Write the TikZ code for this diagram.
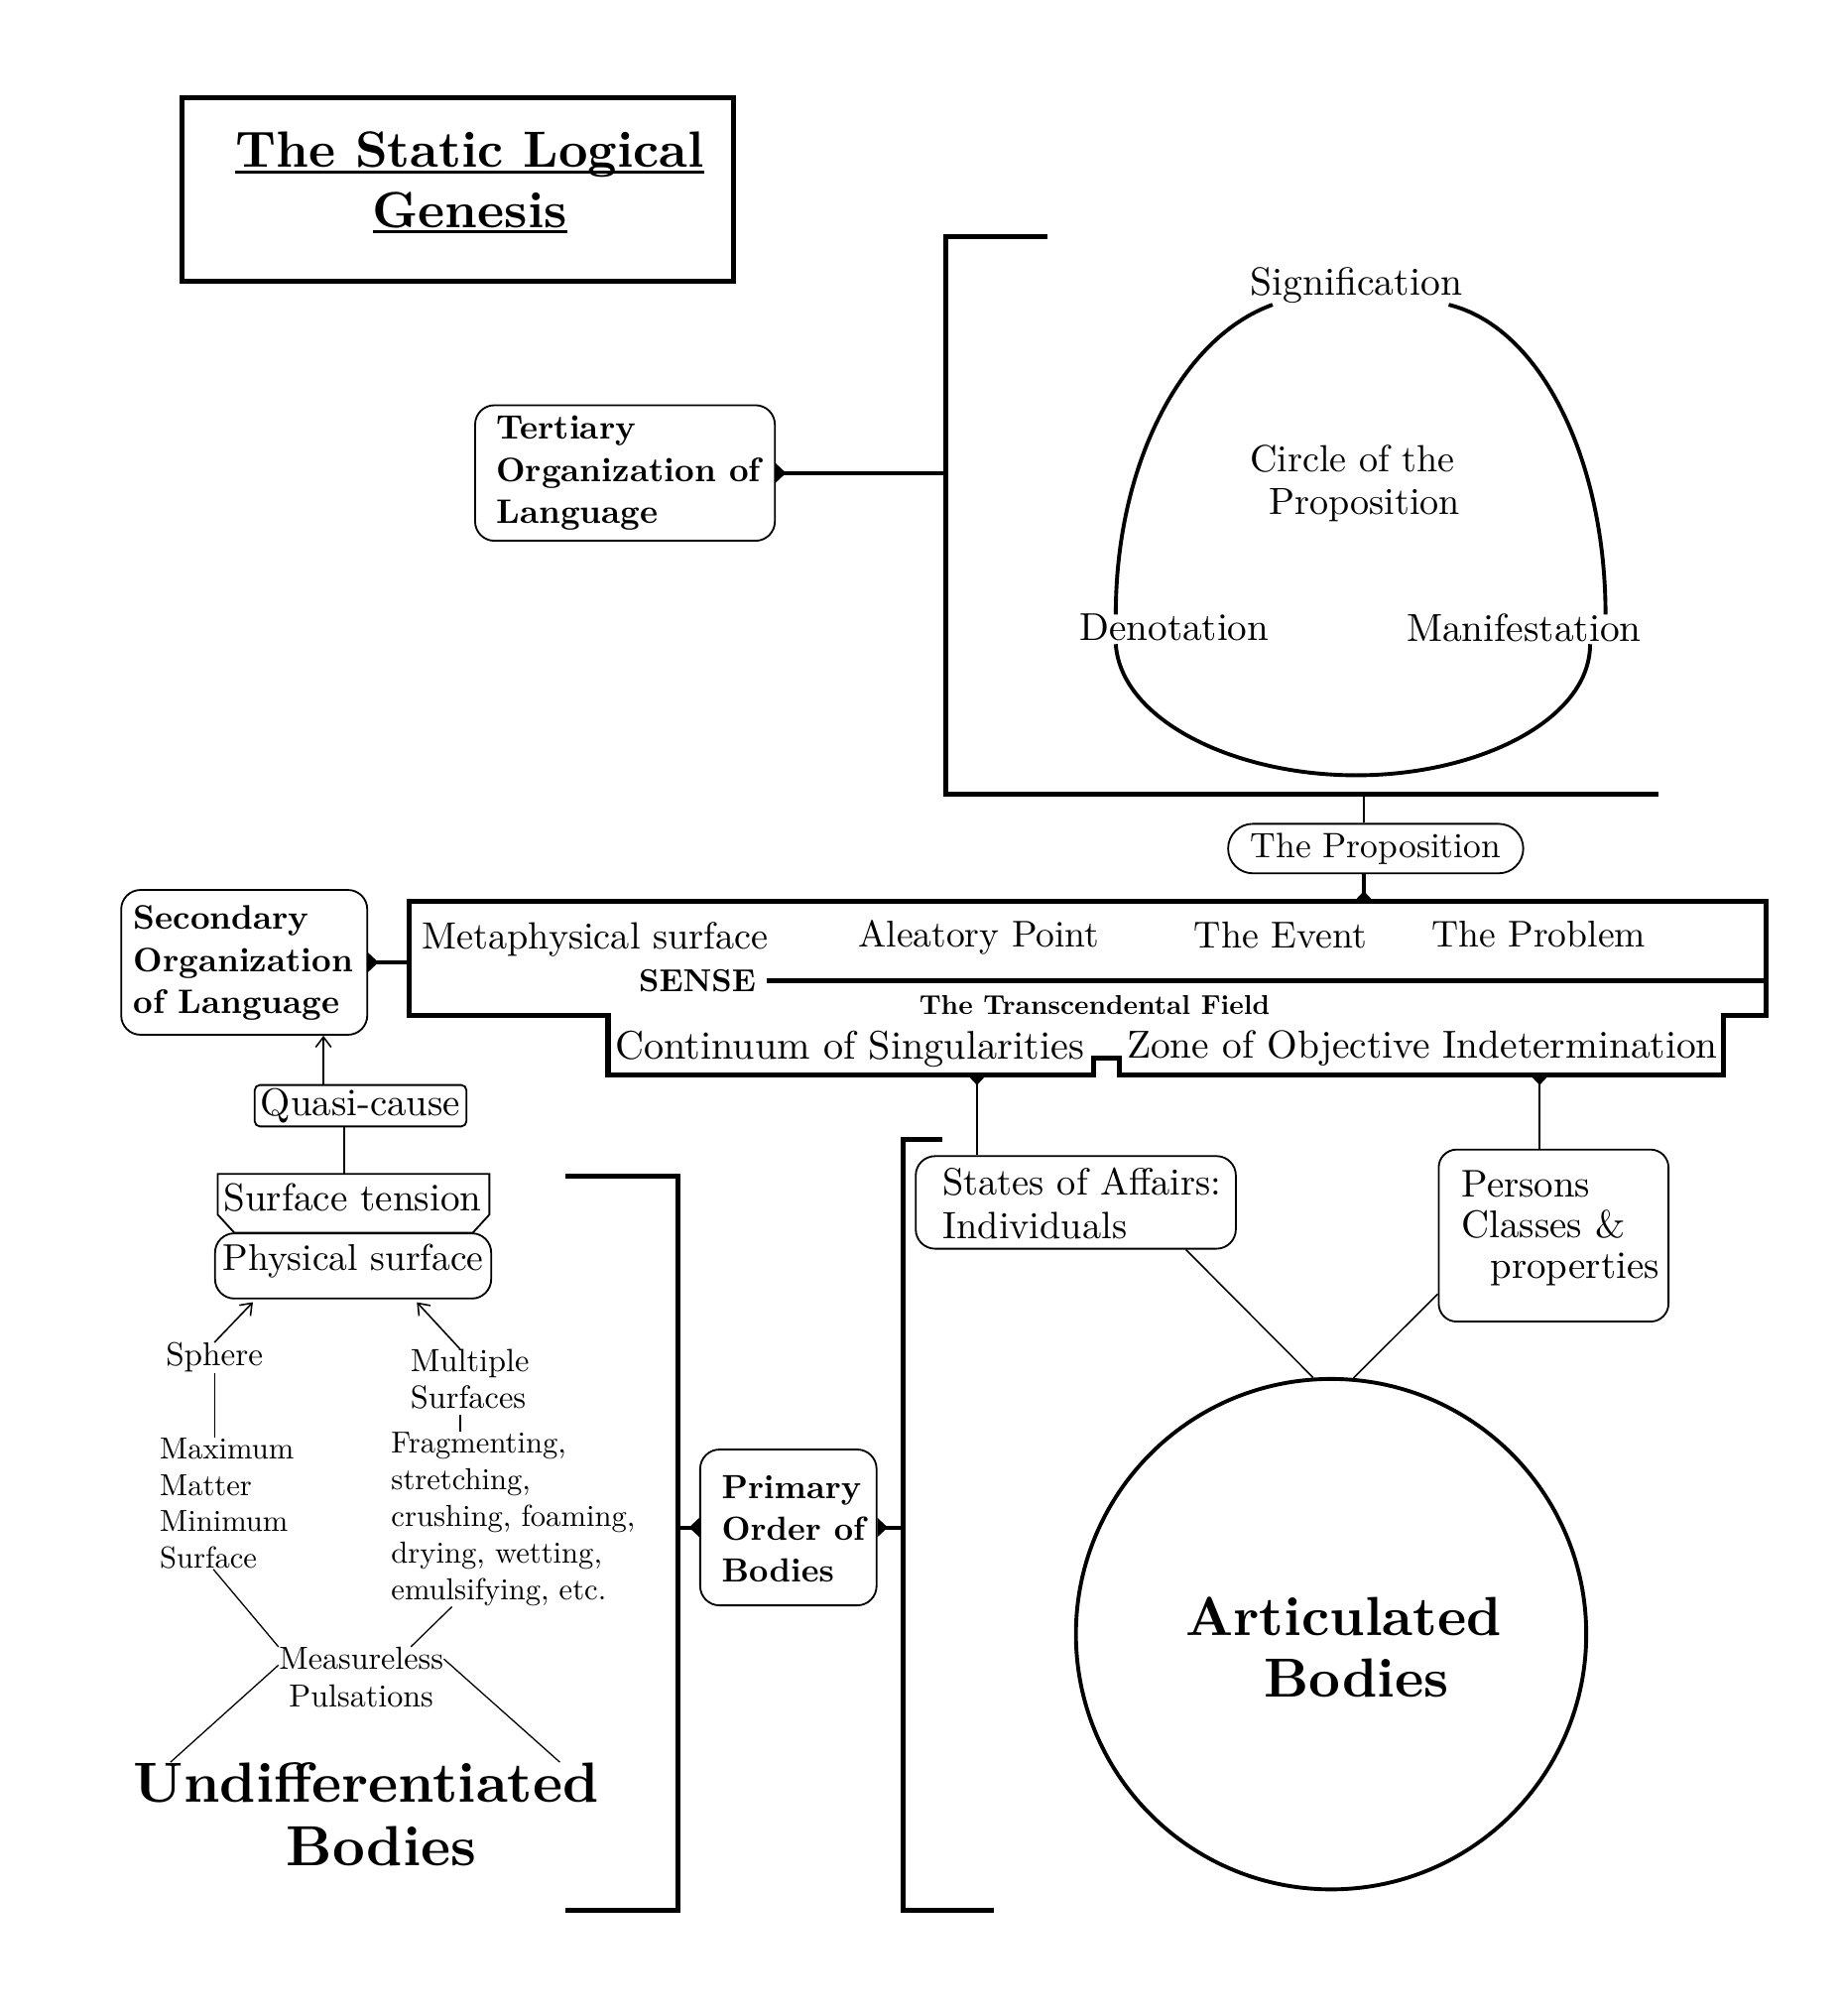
\documentclass[tikz,border=0pt]{standalone}
\usepackage{fontspec}
\setmainfont{lmroman10-regular.otf}[BoldFont=lmroman10-bold.otf, ItalicFont=lmroman10-italic.otf]
\usetikzlibrary{arrows.meta,calc}
\newcommand\fsz[2]{\fontsize{#1}{#2}\selectfont}
\newcommand\myul[1]{\setbox0=\hbox{#1}\rlap{\rule[-2.2pt]{\wd0}{0.9pt}}\box0}
\begin{document}
\begin{tikzpicture}[x=0.5pt,y=-0.5pt,
  bline/.style={line width=2pt},
  dome/.style={line width=1.5pt},
  rbox/.style={draw, line width=0.7pt, rounded corners=7.5pt, inner sep=0pt},
  txt/.style={inner sep=0pt, align=center},
  btxt/.style={inner sep=0pt, align=left, font=\fsz{13.2}{16.3}\bfseries},
  stxt/.style={inner sep=0pt, align=left},
  thinl/.style={line width=0.5pt},
  thinc/.style={line width=0.6pt},
  conn/.style={line width=1.5pt},
  arr/.style={line width=0.6pt, -{Straight Barb[length=4pt,width=6pt]}},
  junc/.pic={\fill (0,-7.5) -- (8,0) -- (0,7.5) -- cycle;}
]
\fill[white] (0,0) rectangle (1431,1568);
\useasboundingbox (0,0) rectangle (1431,1568);

% ---------- title ----------
\node[draw, line width=2pt, minimum width=214.6pt, minimum height=71.3pt, inner sep=0pt] (titlebox) at (356.2,147.3) {};
\node[txt, font=\fsz{19.8}{23.2}\bfseries] (title) at (365.5,142) {\myul{The Static Logical}\\\myul{Genesis}};

% ---------- tertiary ----------
\coordinate (tbtop) at (815,184);
\coordinate (tb) at (736,184);
\coordinate (tbb) at (736,618);
\coordinate (tbend) at (1290,618);
\draw[bline] (tbtop) -- (tb) -- (tbb) -- (tbend);

\node[rbox, minimum width=116.6pt, minimum height=52.7pt] (tert) at (486.2,367.9) {};
\node[btxt, anchor=west] (terttxt) at (385.7,367.9) {Tertiary\\Organization of\\Language};
\draw[conn] (tert.east) -- (tert.east -| tb);
\pic at (tert.east) {junc};

% ---------- circle of the proposition ----------
\draw[dome] (990,237) .. controls (920,262) and (868,360) .. (868,478);
\draw[dome] (1127,237) .. controls (1200,255) and (1249,360) .. (1249,478);
\draw[dome] (868,501) .. controls (872,560) and (960,603) .. (1055,603)
            .. controls (1150,603) and (1237,560) .. (1237,501);
\node[txt, font=\fsz{15.3}{16.5}] (signif) at (1055,222) {Signification};
\node[stxt, anchor=west, font=\fsz{14.7}{16.5}] (circtxt) at (972,376) {Circle of the\\\hspace*{7.5pt}Proposition};
\node[txt, font=\fsz{15.1}{16.5}] (denot) at (913.5,488) {Denotation};
\node[txt, font=\fsz{15.2}{16.5}] (manif) at (1185.5,488) {Manifestation};

% ---------- the proposition ----------
\coordinate (pb) at (1061,618);
\node[rbox, rounded corners=9.6pt, minimum width=114.8pt, minimum height=19.25pt, font=\fsz{13.7}{16.5}] (prop) at (1070.2,660) {The Proposition};
\draw[line width=1.1pt] (pb) -- (pb |- prop.north);

% ---------- sense box ----------
\coordinate (s1) at (318,701);
\coordinate (s2) at (1374,701);
\coordinate (s3) at (1374,790);
\coordinate (s4) at (1341,790);
\coordinate (s5) at (1341,836);
\coordinate (s6) at (871,836);
\coordinate (s7) at (871,823);
\coordinate (s8) at (851,823);
\coordinate (s9) at (851,836);
\coordinate (s10) at (473,836);
\coordinate (s11) at (473,790);
\coordinate (s12) at (318,790);
\draw[bline] (s1) -- (s2) -- (s3) -- (s4) -- (s5) -- (s6) -- (s7) -- (s8) -- (s9) -- (s10) -- (s11) -- (s12) -- cycle;
\draw[conn] (pb |- prop.south) -- (pb |- s1);
\pic[rotate=90] at (pb |- s1) {junc};

\node[txt, font=\fsz{14.75}{16.5}] (meta) at (463,731) {Metaphysical surface};
\node[txt, font=\fsz{14.5}{16.5}] (alea) at (761.5,729) {Aleatory Point};
\node[txt, font=\fsz{14.6}{16.5}] (event) at (996,727) {The Event};
\node[txt, font=\fsz{14.5}{16.5}] (probl) at (1197,727) {The Problem};
\node[txt, font=\fsz{12.3}{14}\bfseries] (sense) at (542.5,763) {SENSE};
\draw[bline] ([xshift=4pt]sense.east) -- (sense.east -| s2);
\node[txt, font=\fsz{10.6}{12}\bfseries] (tfield) at (851.5,782) {The Transcendental Field};
\node[txt, font=\fsz{15.5}{16.5}] (cont) at (661,816) {Continuum of Singularities};
\node[txt, font=\fsz{15.2}{16.5}] (zone) at (1106.5,815) {Zone of Objective Indetermination};

% ---------- secondary ----------
\node[rbox, minimum width=95.7pt, minimum height=56.3pt] (sec) at (190,748.5) {};
\node[btxt, anchor=west] (sectxt) at (103.5,749) {Secondary\\Organization\\of Language};
\draw[conn] (sec.east) -- (sec.east -| s1);
\pic at (sec.east) {junc};

% ---------- quasi-cause / surfaces ----------
\coordinate (qx) at (251.6,0);
\coordinate (qx2) at (267.6,0);
\node[rbox, rounded corners=2pt, minimum width=82.35pt, minimum height=16.1pt, font=\fsz{15}{16.5}] (quasi) at (280.5,860) {Quasi-cause};
\draw[arr] (quasi.north -| qx) -- (sec.south -| qx);

\node[inner sep=0pt, minimum width=105.25pt, minimum height=22.5pt] (stens) at (275.05,935.9) {};
\draw[line width=0.7pt] ($(stens.south west)+(12.9,0)$) -- ($(stens.south west)+(0,-14.1)$) -- (stens.north west) -- (stens.north east) -- ($(stens.south east)+(0,-14.1)$) -- ($(stens.south east)+(-12.9,0)$) -- cycle;
\node[txt, font=\fsz{15.1}{16.5}] (stenstxt) at (274.3,931.4) {Surface tension};
\draw[thinc] (quasi.south -| qx2) -- (stens.north -| qx2);

\node[rbox, rounded corners=7.5pt, minimum width=107.4pt, minimum height=25.35pt] (phys) at (274.7,984.6) {};
\node[txt, font=\fsz{14.5}{16.5}] (physt) at (274.8,981) {Physical surface};

\node[txt, font=\fsz{12.8}{14.2}] (sphere) at (166.8,1056) {Sphere};
\node[stxt, anchor=west, font=\fsz{12.5}{14.15}] (multi) at (318.9,1072.9) {Multiple\\Surfaces};
\draw[arr, shorten >=1.5pt] (sphere.north) -- ($(phys.south west)!0.149!(phys.south east)$);
\draw[arr, shorten >=1.5pt] ($(multi.north west)!0.42!(multi.north east)$) -- ($(phys.south west)!0.72!(phys.south east)$);

\node[stxt, anchor=west, font=\fsz{11.8}{14.15}] (maxmat) at (124,1169.4) {Maximum\\Matter\\Minimum\\Surface};
\node[stxt, anchor=west, font=\fsz{11.8}{14.3}] (frag) at (304,1181.6) {Fragmenting,\\stretching,\\crushing, foaming,\\drying, wetting,\\emulsifying, etc.};
\coordinate (m1) at ($(multi.south west)!0.42!(multi.south east)$);
\draw[thinl] (sphere.south) -- (sphere.south |- maxmat.north);
\draw[thinl] ([yshift=-2pt]m1) -- (m1 |- frag.north);

\node[txt, font=\fsz{12.4}{14.5}] (meas) at (281,1304.5) {Measureless\\Pulsations};
\draw[thinl] ($(maxmat.south west)!0.4!(maxmat.south east)$) -- (meas.north west);
\draw[thinl] ($(frag.south west)!0.25!(frag.south east)$) -- ($(meas.north west)!0.8!(meas.north east)$);

\node[stxt, anchor=west, font=\fsz{22}{24.5}\bfseries] (undiff) at (103.6,1411) {Undifferentiated\\\hspace*{59.3pt}Bodies};
\draw[thinl] ($(meas.north west)!0.3!(meas.south west)$) -- ($(undiff.north west)!0.08!(undiff.north east)$);
\draw[thinl] ($(meas.north east)!0.2!(meas.south east)$) -- ($(undiff.north west)!0.915!(undiff.north east)$);

% ---------- primary order ----------
\coordinate (lb1) at (440,914.6);
\coordinate (lb) at (527.4,914.6);
\coordinate (lb2) at (527.4,1486);
\coordinate (lb3) at (440,1486);
\draw[bline] (lb1) -- (lb) -- (lb2) -- (lb3);
\coordinate (rb1) at (733.2,886.3);
\coordinate (rb) at (702.4,886.3);
\coordinate (rb2) at (702.4,1486);
\coordinate (rb3) at (773,1486);
\draw[bline] (rb1) -- (rb) -- (rb2) -- (rb3);

\node[rbox, minimum width=68.6pt, minimum height=60.6pt] (prim) at (613.3,1188) {};
\node[btxt, anchor=west, font=\fsz{13}{16.15}\bfseries] (primtxt) at (561,1189.2) {Primary\\Order of\\Bodies};
\draw[conn] (prim.west) -- (prim.west -| lb);
\pic[rotate=180] at (prim.west) {junc};
\draw[conn] (prim.east) -- (prim.east -| rb);
\pic at (prim.east) {junc};

% ---------- states / persons ----------
\coordinate (stb) at (760,836);
\node[rbox, minimum width=124.5pt, minimum height=36pt] (states) at (836.9,935.2) {};
\node[stxt, anchor=west, font=\fsz{14.8}{16.75}] (statestxt) at (733.1,936) {States of Affairs:\\Individuals};
\draw[thinc] (stb) -- (stb |- states.north);
\pic[rotate=-90] at (stb) {junc};

\coordinate (pzb) at (1197.7,836);
\node[rbox, rounded corners=7pt, minimum width=89.4pt, minimum height=66.9pt] (persons) at (1208.6,961) {};
\node[stxt, anchor=west, font=\fsz{15}{15.8}] (personstxt) at (1136.7,955) {Persons\\Classes \&\\\hspace*{11.2pt}properties};
\draw[thinc] (pzb) -- (pzb |- persons.north);
\pic[rotate=-90] at (pzb) {junc};

% ---------- articulated bodies ----------
\node[circle, draw, line width=1.5pt, minimum size=198.5pt, inner sep=0pt] (artic) at (1035.5,1271) {};
\node[stxt, anchor=west, font=\fsz{21.4}{24}\bfseries] (artictxt) at (922,1281) {Articulated\\\hspace*{30.5pt}Bodies};
\draw[thinc] ($(states.south west)!0.842!(states.south east)$) -- (artic.94);
\draw[thinc] ($(persons.north west)!0.836!(persons.south west)$) -- (artic.85);
\end{tikzpicture}
\end{document}
